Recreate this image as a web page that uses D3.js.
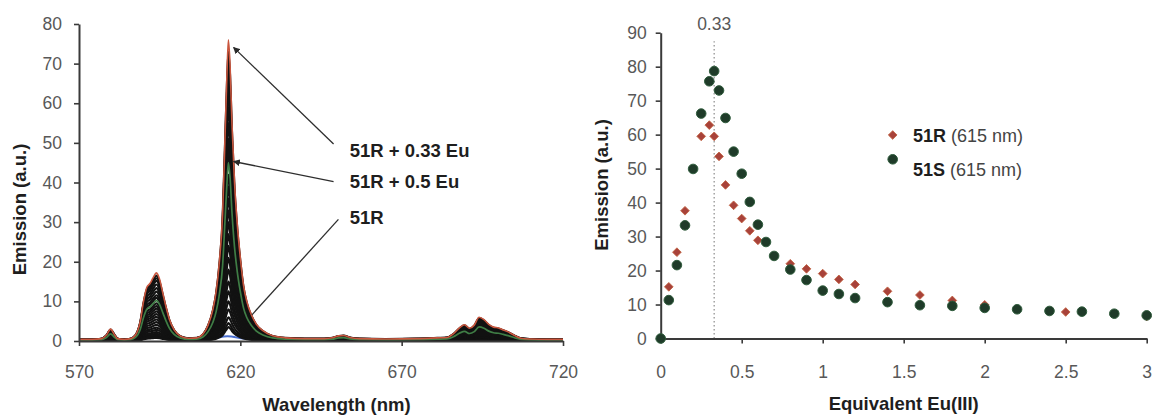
<!DOCTYPE html>
<html>
<head>
<meta charset="utf-8">
<script src="https://cdn.jsdelivr.net/npm/d3@7"></script>
<style>
  html, body { margin: 0; padding: 0; background: #fff; }
  svg { display: block; font-family: "Liberation Sans", Arial, sans-serif; }
</style>
</head>
<body>
<svg id="chart" width="1156" height="416"></svg>
<script>
// ---------- Left panel: emission spectra of the 51R / Eu(III) titration ----------
// Wavelength grid (nm) and the emission of 51R + 0.33 Eu (a.u.) on that grid
const wavelengths = [570, 574, 577, 578.5, 579.8, 581, 582, 584, 586, 587.5,
  589, 590, 591, 592, 593, 594, 595, 596, 597, 598,
  599.5, 601.5, 604, 606.5, 608.5, 610, 611.5, 612.5, 613.5, 614.5,
  615.2, 615.8, 616.3, 616.8, 617.4, 618.2, 619, 620, 621, 622,
  623.5, 625, 627, 630, 634, 640, 646, 648.5, 650.5, 652,
  654, 657, 665, 675, 681, 684, 686, 688, 689.5, 691,
  692.5, 694, 695.5, 697, 698.5, 700, 701.5, 703, 705, 707,
  710, 715, 720];
const emission033 = [0.4, 0.4, 0.6, 1.5, 3.0, 1.6, 0.6, 0.4, 0.6, 1.5,
  5, 10, 13.5, 14.5, 16, 17.2, 15.5, 12, 8.5, 5.5,
  2.8, 1.2, 0.7, 0.8, 1.8, 4, 8, 12.5, 20, 32,
  50, 66, 76, 70, 55, 40, 30, 21, 14, 10,
  6.5, 4.2, 2.6, 1.3, 0.8, 0.6, 0.6, 0.8, 1.3, 1.4,
  0.9, 0.6, 0.5, 0.6, 0.8, 0.9, 1.8, 3.4, 4.1, 3.2,
  4.0, 6.0, 5.4, 4.2, 3.5, 3.3, 2.8, 2.3, 1.4, 0.7,
  0.5, 0.4, 0.4];
// Peak emission at 616 nm of each spectrum in the series
const peak033 = 76;          // 51R + 0.33 Eu (strongest)
const peak05 = 45;           // 51R + 0.5 Eu
const seriesPeaks = [73, 70, 67, 63, 59, 55, 51, 48, 42, 39, 36, 33, 30, 27,
  24, 21, 18, 15, 12.5, 10, 8, 6, 4.5, 3.5];
// Free 51R, no europium
const blankNm = [570, 586, 590, 594, 598, 605, 611, 616, 621, 628, 720];
const blankEmission = [0.2, 0.2, 0.6, 1.0, 0.5, 0.3, 0.5, 1.2, 0.6, 0.2, 0.2];

const wavelengthTicks = [570, 620, 670, 720];
const emissionTicksLeft = [0, 10, 20, 30, 40, 50, 60, 70, 80];

// Callouts: label, start of the leader (nm, a.u.), point it names (nm, a.u.)
const calloutLabels = ["51R + 0.33 Eu", "51R + 0.5 Eu", "51R"];
const calloutFrom = [[648.9, 49.7], [648.9, 40.2], [650.4, 30.7]];
const calloutTo = [[617.9, 74.1], [617.9, 45.3], [623.6, 6.6]];
const calloutArrow = [true, true, false];
const calloutTextAt = [[653.9, 46.5], [653.9, 38.5], [653.9, 29.5]];

// ---------- Right panel: emission at 615 nm versus Eu(III) equivalents ----------
const eq51R = [0.05, 0.1, 0.15, 0.25, 0.3, 0.33, 0.36, 0.4, 0.45, 0.5, 0.55, 0.6,
  0.8, 0.9, 1.0, 1.1, 1.2, 1.4, 1.6, 1.8, 2.0, 2.5, 3.0];
const em51R = [15.2, 25.4, 37.6, 59.5, 62.8, 59.5, 53.6, 45.2, 39.2, 35.3, 31.7, 28.9,
  22.0, 20.5, 19.1, 17.4, 15.9, 13.9, 12.8, 11.2, 9.9, 7.8, 6.5];
const eq51S = [0, 0.05, 0.1, 0.15, 0.2, 0.25, 0.3, 0.33, 0.36, 0.4, 0.45, 0.5, 0.55,
  0.6, 0.65, 0.7, 0.8, 0.9, 1.0, 1.1, 1.2, 1.4, 1.6, 1.8, 2.0, 2.2, 2.4, 2.6, 2.8, 3.0];
const em51S = [0, 11.3, 21.6, 33.3, 49.9, 66.2, 75.7, 78.7, 73.0, 64.9, 55.0, 48.5, 40.2,
  33.5, 28.4, 24.3, 20.3, 17.2, 14.1, 13.1, 11.9, 10.7, 9.8, 9.6, 9.0, 8.6, 8.1, 7.9, 7.3, 6.8];
const eqTicks = [0, 0.5, 1, 1.5, 2, 2.5, 3];
const emissionTicksRight = [0, 10, 20, 30, 40, 50, 60, 70, 80, 90];
const optimumEq = 0.33;
const legendNames = ["51R", "51S"];
const legendNote = " (615 nm)";

// ---------- Drawing ----------
const svg = d3.select("#chart");
const tickFont = "17.5px";
const titleFont = "18.5px";
const tickColor = "#585858";
const inkColor = "#1e1e1e";
const axisColor = "#3a3a3a";
const redFill = "#a8423a";
const greenFill = "#1f3b29";

function styleAxis(g) {
  g.select(".domain").attr("stroke", axisColor).attr("stroke-width", 2);
  g.selectAll(".tick line").attr("stroke", axisColor).attr("stroke-width", 1.6);
  g.selectAll(".tick text").attr("fill", tickColor).style("font-size", tickFont)
    .style("font-family", '"Liberation Sans", Arial, sans-serif');
}

// Left scales
const xL = d3.scaleLinear().domain([570, 720]).range([79, 563]);
const yL = d3.scaleLinear().domain([0, 80]).range([341, 24]);

const gL = svg.append("g");
const specLine = d3.line().x(d => xL(d[0])).y(d => yL(d[1])).curve(d3.curveMonotoneX);
const scaled = h => wavelengths.map((w, i) => [w, emission033[i] * h / peak033]);

// free ligand
gL.append("path").datum(blankNm.map((w, i) => [w, blankEmission[i]]))
  .attr("d", specLine).attr("fill", "none").attr("stroke", "#4a6fd0").attr("stroke-width", 1.8);
// titration series
gL.selectAll("path.series").data(seriesPeaks).enter().append("path")
  .attr("class", "series")
  .attr("d", h => specLine(scaled(h)))
  .attr("fill", "none").attr("stroke", "#121212").attr("stroke-width", 2.2)
  .attr("stroke-linejoin", "round");
// 0.5 Eu
gL.append("path").datum(scaled(peak05))
  .attr("d", specLine).attr("fill", "none").attr("stroke", "#3f7d45").attr("stroke-width", 1.7);
// 0.33 Eu
gL.append("path").datum(scaled(peak033))
  .attr("d", specLine).attr("fill", "none").attr("stroke", "#c9563e").attr("stroke-width", 1.6);

// Left axes
const axL = gL.append("g").attr("transform", `translate(0,${yL(0)})`)
  .call(d3.axisBottom(xL).tickValues(wavelengthTicks).tickFormat(d3.format("d"))
    .tickSize(5).tickSizeOuter(0).tickPadding(20));
styleAxis(axL);
const ayL = gL.append("g").attr("transform", `translate(${xL(570)},0)`)
  .call(d3.axisLeft(yL).tickValues(emissionTicksLeft).tickSize(5).tickSizeOuter(0).tickPadding(12));
styleAxis(ayL);

gL.append("text").attr("x", 336.5).attr("y", 410.5).attr("text-anchor", "middle")
  .attr("font-weight", "bold").style("font-size", titleFont).attr("fill", inkColor)
  .text("Wavelength (nm)");
gL.append("text").attr("transform", "translate(25.5,209.5) rotate(-90)").attr("text-anchor", "middle")
  .attr("font-weight", "bold").style("font-size", titleFont).attr("fill", inkColor)
  .text("Emission (a.u.)");

// Arrowhead
svg.append("defs").append("marker").attr("id", "head")
  .attr("viewBox", "0 0 10 10").attr("refX", 9).attr("refY", 5)
  .attr("markerWidth", 7).attr("markerHeight", 7).attr("markerUnits", "userSpaceOnUse")
  .attr("orient", "auto")
  .append("path").attr("d", "M0,0 L10,5 L0,10 z").attr("fill", "#2a2a2a");

calloutLabels.forEach((lab, i) => {
  const ln = gL.append("line")
    .attr("x1", xL(calloutFrom[i][0])).attr("y1", yL(calloutFrom[i][1]))
    .attr("x2", xL(calloutTo[i][0])).attr("y2", yL(calloutTo[i][1]))
    .attr("stroke", "#2e2e2e").attr("stroke-width", 1.3);
  if (calloutArrow[i]) ln.attr("marker-end", "url(#head)");
  gL.append("text").attr("x", xL(calloutTextAt[i][0])).attr("y", yL(calloutTextAt[i][1]))
    .attr("font-weight", "bold").style("font-size", titleFont).attr("fill", inkColor)
    .text(lab);
});

// Right scales
const xR = d3.scaleLinear().domain([0, 3]).range([660.7, 1146.7]);
const yR = d3.scaleLinear().domain([0, 90]).range([338.5, 32.7]);
const gR = svg.append("g");

// optimum marker
gR.append("line").attr("x1", xR(optimumEq)).attr("x2", xR(optimumEq))
  .attr("y1", yR(0)).attr("y2", yR(87.5))
  .attr("stroke", "#8a8a8a").attr("stroke-width", 1.2).attr("stroke-dasharray", "1.5,2.5");
gR.append("text").attr("x", xR(optimumEq)).attr("y", 29.5).attr("text-anchor", "middle")
  .style("font-size", tickFont).attr("fill", tickColor).text(optimumEq);

const axR = gR.append("g").attr("transform", `translate(0,${yR(0)})`)
  .call(d3.axisBottom(xR).tickValues(eqTicks).tickFormat(d => d).tickSize(5).tickSizeOuter(0).tickPadding(22));
styleAxis(axR);
const ayR = gR.append("g").attr("transform", `translate(${xR(0)},0)`)
  .call(d3.axisLeft(yR).tickValues(emissionTicksRight).tickSize(5).tickSizeOuter(0).tickPadding(9));
styleAxis(ayR);

gR.append("text").attr("x", xR(1.5)).attr("y", 409.5).attr("text-anchor", "middle")
  .attr("font-weight", "bold").style("font-size", titleFont).attr("fill", inkColor)
  .text("Equivalent Eu(III)");
gR.append("text").attr("transform", "translate(608,185) rotate(-90)").attr("text-anchor", "middle")
  .attr("font-weight", "bold").style("font-size", titleFont).attr("fill", inkColor)
  .text("Emission (a.u.)");

const diamond = d3.symbol().type(d3.symbolSquare).size(38)();
gR.selectAll("path.r").data(eq51R.map((x, i) => [x, em51R[i]])).enter().append("path")
  .attr("class", "r").attr("d", diamond)
  .attr("transform", d => `translate(${xR(d[0])},${yR(d[1])}) rotate(45)`)
  .attr("fill", redFill).attr("stroke", "#c0613f").attr("stroke-width", 0.8);
gR.selectAll("circle.s").data(eq51S.map((x, i) => [x, em51S[i]])).enter().append("circle")
  .attr("class", "s").attr("cx", d => xR(d[0])).attr("cy", d => yR(d[1])).attr("r", 4.8)
  .attr("fill", greenFill).attr("stroke", "#2f5c3c").attr("stroke-width", 1);

// Legend
const lg = gR.append("g");
lg.append("path").attr("d", diamond).attr("transform", "translate(892.7,135) rotate(45)")
  .attr("fill", redFill).attr("stroke", "#c0613f").attr("stroke-width", 0.8);
lg.append("circle").attr("cx", 892.7).attr("cy", 159.3).attr("r", 4.8)
  .attr("fill", greenFill).attr("stroke", "#2f5c3c").attr("stroke-width", 1);
[141.7, 176].forEach((y, i) => {
  const t = lg.append("text").attr("x", 913).attr("y", y).style("font-size", "18px").attr("fill", inkColor);
  t.append("tspan").attr("font-weight", "bold").text(legendNames[i]);
  t.append("tspan").attr("fill", "#444").text(legendNote);
});
</script>
</body>
</html>
